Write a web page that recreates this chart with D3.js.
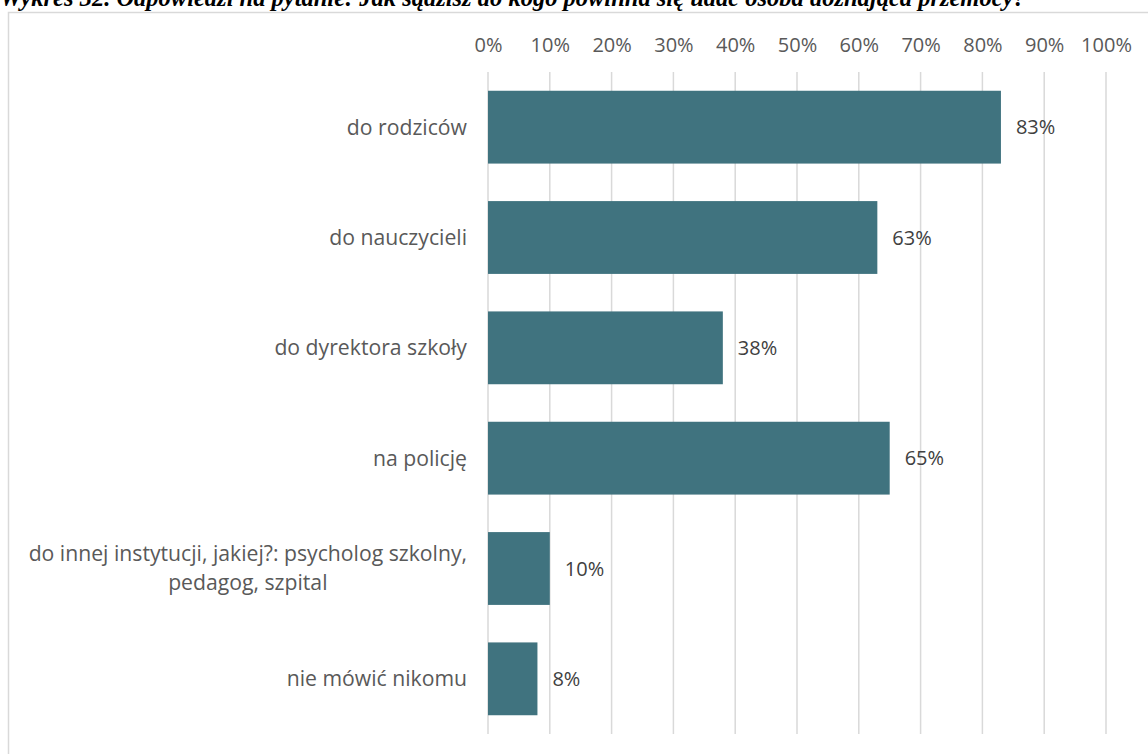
<!DOCTYPE html>
<html>
<head>
<meta charset="utf-8">
<script src="https://cdn.jsdelivr.net/npm/d3@7"></script>
<style>
  html, body { margin: 0; padding: 0; background: #fff; }
  svg { display: block; }
</style>
</head>
<body>
<svg id="chart" width="1148" height="754"></svg>
<script>
const titleText = "Wykres 32. Odpowiedzi na pytanie: Jak sądzisz do kogo powinna się udać osoba doznająca przemocy?";
const categories = [
  ["do rodziców"],
  ["do nauczycieli"],
  ["do dyrektora szkoły"],
  ["na policję"],
  ["do innej instytucji, jakiej?: psycholog szkolny,", "pedagog, szpital"],
  ["nie mówić nikomu"]
];
const values = [0.83, 0.63, 0.38, 0.65, 0.10, 0.08];
const tickValues = [0, 0.1, 0.2, 0.3, 0.4, 0.5, 0.6, 0.7, 0.8, 0.9, 1.0];

const svg = d3.select("#chart");
const font = "'Open Sans', sans-serif";
const fs = 20;
const catFs = 21.2;

// title (cut off at top, as in the source)
svg.append("text")
  .attr("x", 0).attr("y", 6)
  .attr("font-family", "'Liberation Serif', 'Times New Roman', serif")
  .attr("font-weight", "bold").attr("font-style", "italic")
  .attr("font-size", 24.5)
  .attr("fill", "#000")
  .text(titleText);

// frame
svg.append("rect")
  .attr("x", 8.5).attr("y", 12.5)
  .attr("width", 1160).attr("height", 760)
  .attr("fill", "#fff").attr("stroke", "#d9d9d9").attr("stroke-width", 1.5);

const x = d3.scaleLinear().domain([0, 1]).range([488, 1106]);
const y = d3.scaleBand().domain(d3.range(categories.length)).range([72, 734]).paddingInner(0.34).paddingOuter(0.17);

// gridlines
svg.append("g").selectAll("line").data(tickValues).join("line")
  .attr("x1", d => x(d)).attr("x2", d => x(d))
  .attr("y1", 72).attr("y2", 734)
  .attr("stroke", "#d9d9d9").attr("stroke-width", 1.5);

// top axis labels
const axis = d3.axisTop(x).tickValues(tickValues).tickFormat(d3.format(".0%")).tickSize(0).tickPadding(0);
const ag = svg.append("g").attr("transform", "translate(0,52)").call(axis);
ag.select(".domain").remove();
ag.selectAll("text").attr("font-family", font).attr("font-size", fs).attr("fill", "#595959");

// bars
svg.append("g").selectAll("rect").data(values).join("rect")
  .attr("x", x(0)).attr("y", (d, i) => y(i))
  .attr("width", d => x(d) - x(0)).attr("height", y.bandwidth())
  .attr("fill", "#40737f");

// data labels
svg.append("g").selectAll("text").data(values).join("text")
  .attr("x", d => x(d) + 15).attr("y", (d, i) => y(i) + y.bandwidth() / 2)
  .attr("dy", "0.35em")
  .attr("font-family", font).attr("font-size", fs).attr("fill", "#404040")
  .text(d => d3.format(".0%")(d));

// category labels
const labelRight = 467;
const lg = svg.append("g");
categories.forEach((lines, i) => {
  const cy = y(i) + y.bandwidth() / 2;
  const lh = 29;
  const t = lg.append("text")
    .attr("font-family", font).attr("font-size", catFs).attr("fill", "#595959");
  lines.forEach((ln, j) => {
    t.append("tspan").attr("x", labelRight).attr("y", cy + (j - (lines.length - 1) / 2) * lh)
      .attr("dy", "0.35em").text(ln);
  });
  if (lines.length > 1) {
    const widths = [];
    t.selectAll("tspan").each(function() { widths.push(this.getComputedTextLength()); });
    const maxW = d3.max(widths);
    const cx = labelRight - maxW / 2;
    t.selectAll("tspan").attr("x", cx);
    t.attr("text-anchor", "middle");
  } else {
    t.attr("text-anchor", "end");
  }
});
</script>
</body>
</html>
